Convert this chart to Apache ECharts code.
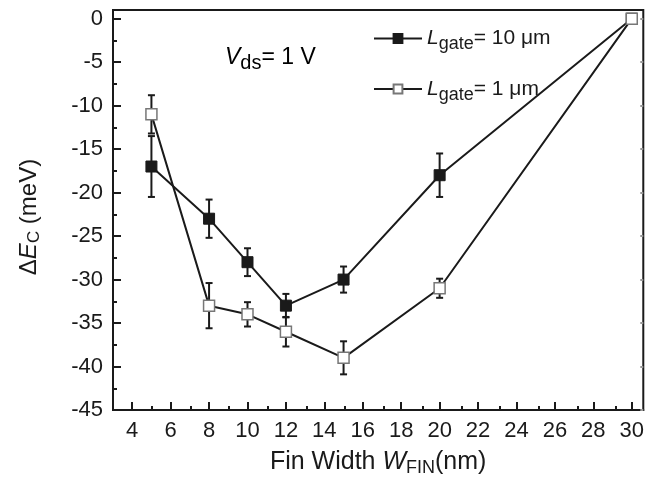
<!DOCTYPE html>
<html>
<head>
<meta charset="utf-8">
<script src="https://cdn.jsdelivr.net/npm/echarts@6/dist/echarts.min.js"></script>
<style>
  html, body { margin: 0; padding: 0; background: #fff; }
  #chart { width: 647px; height: 487px; }
</style>
</head>
<body>
<div id="chart"></div>
<script>
// fin width (nm)
var finWidth = [5, 8, 10, 12, 15, 20, 30]
// L_gate = 10 um, filled squares
var gate10 = [-17, -23, -28, -33, -30, -18, 0]
var gate10Err = [3.5, 2.2, 1.6, 1.35, 1.5, 2.5, 0]
// L_gate = 1 um, open squares
var gate1 = [-11, -33, -34, -36, -39, -31, 0]
var gate1Err = [2.2, 2.6, 1.4, 1.7, 1.9, 1.1, 0]
// ticks
var xTicks = [4, 6, 8, 10, 12, 14, 16, 18, 20, 22, 24, 26, 28, 30]
var xMinor = [5, 7, 9, 11, 13, 15, 17, 19, 21, 23, 25, 27, 29]
var yTicks = [-45, -40, -35, -30, -25, -20, -15, -10, -5, 0]
var yMinor = [-42.5, -37.5, -32.5, -27.5, -22.5, -17.5, -12.5, -7.5, -2.5]

var font = 'Liberation Sans, Arial, sans-serif'
var ink = '#1a1a1a'
var box = { left: 113, top: 10, right: -1, bottom: 77 }

function pairs (ys) {
  return finWidth.map(function (x, i) { return [x, ys[i]] })
}
function errRows (ys, es) {
  return finWidth.map(function (x, i) { return [x, ys[i] - es[i], ys[i] + es[i]] })
}
function errBars (params, api) {
  var lo = api.coord([api.value(0), api.value(1)])
  var hi = api.coord([api.value(0), api.value(2)])
  if (Math.abs(lo[1] - hi[1]) < 1) return
  var w = 3.5
  var st = { stroke: ink, lineWidth: 2 }
  return {
    type: 'group',
    children: [
      { type: 'line', shape: { x1: lo[0], y1: lo[1], x2: hi[0], y2: hi[1] }, style: st },
      { type: 'line', shape: { x1: lo[0] - w, y1: lo[1], x2: lo[0] + w, y2: lo[1] }, style: st },
      { type: 'line', shape: { x1: hi[0] - w, y1: hi[1], x2: hi[0] + w, y2: hi[1] }, style: st }
    ]
  }
}

function richSet (size, subSize, drop) {
  return {
    n: { fontFamily: font, fontSize: size, color: ink },
    it: { fontFamily: font, fontSize: size, fontStyle: 'italic', color: ink },
    sub: { fontFamily: font, fontSize: subSize, color: ink, padding: [drop, 0, 0, 0] }
  }
}

var chart = echarts.init(document.getElementById('chart'))
var option = {
  animation: false,
  grid: [
    Object.assign({ show: true, borderColor: ink, borderWidth: 2 }, box),
    // twin grid only carrying the minor ticks
    Object.assign({ show: false }, box)
  ],
  legend: {
    data: ['L10', 'L1'],
    orient: 'vertical',
    left: 368,
    top: 23,
    itemWidth: 48,
    itemHeight: 11,
    itemGap: 25,
    formatter: function (name) {
      return name === 'L10'
        ? '{it|L}{sub|gate}{n|= 10 μm}'
        : '{it|L}{sub|gate}{n|= 1 μm}'
    },
    textStyle: { rich: richSet(21, 18, 12) }
  },
  xAxis: [
    {
      type: 'value',
      gridIndex: 0,
      min: 3,
      max: 30.6,
      name: '{n|Fin Width }{it|W}{sub|FIN}{n|(nm)}',
      nameLocation: 'middle',
      nameGap: 38,
      nameTextStyle: { rich: richSet(25, 18, 11) },
      axisLine: { onZero: false, lineStyle: { color: ink, width: 2 } },
      axisTick: { inside: true, length: 8, customValues: xTicks, lineStyle: { color: ink, width: 2 } },
      axisLabel: { customValues: xTicks, fontFamily: font, fontSize: 22, color: ink, margin: 10 },
      splitLine: { show: false }
    },
    {
      type: 'value',
      gridIndex: 1,
      min: 3,
      max: 30.6,
      axisLine: { show: false, onZero: false },
      axisTick: { inside: true, length: 4, customValues: xMinor, lineStyle: { color: ink, width: 2 } },
      axisLabel: { show: false },
      splitLine: { show: false }
    }
  ],
  yAxis: [
    {
      type: 'value',
      gridIndex: 0,
      min: -45,
      max: 1,
      name: '{n|Δ}{it|E}{sub|C}{n| (meV)}',
      nameLocation: 'middle',
      nameGap: 70,
      nameTextStyle: { rich: richSet(24, 17, 10), padding: [0, 14, 0, 0] },
      axisLine: { onZero: false, lineStyle: { color: ink, width: 2 } },
      axisTick: { inside: true, length: 8, customValues: yTicks, lineStyle: { color: ink, width: 2 } },
      axisLabel: { customValues: yTicks, fontFamily: font, fontSize: 22, color: ink, margin: 10 },
      splitLine: { show: false }
    },
    {
      // faint ticks of the cut-off right spine
      type: 'value',
      gridIndex: 0,
      min: -45,
      max: 1,
      position: 'right',
      axisLine: { show: false, onZero: false },
      axisTick: { inside: true, length: 3, customValues: yTicks, lineStyle: { color: '#999', width: 2 } },
      axisLabel: { show: false },
      splitLine: { show: false }
    },
    {
      type: 'value',
      gridIndex: 1,
      min: -45,
      max: 1,
      position: 'left',
      axisLine: { show: false, onZero: false },
      axisTick: { inside: true, length: 4, customValues: yMinor, lineStyle: { color: ink, width: 2 } },
      axisLabel: { show: false },
      splitLine: { show: false }
    }
  ],
  graphic: [{
    type: 'text',
    left: 225,
    top: 46,
    style: {
      text: '{it|V}{sub|ds}{n|= 1 V}',
      rich: richSet(23, 20, 12)
    }
  }],
  series: [
    {
      type: 'custom',
      renderItem: errBars,
      data: errRows(gate10, gate10Err),
      z: 2
    },
    {
      type: 'custom',
      renderItem: errBars,
      data: errRows(gate1, gate1Err),
      z: 2
    },
    {
      name: 'L10',
      type: 'line',
      data: pairs(gate10),
      symbol: 'rect',
      symbolSize: 11,
      lineStyle: { color: ink, width: 2 },
      itemStyle: { color: ink, borderColor: ink, borderWidth: 1 },
      z: 3
    },
    {
      name: 'L1',
      type: 'line',
      data: pairs(gate1),
      symbol: 'rect',
      symbolSize: 11,
      lineStyle: { color: ink, width: 2 },
      itemStyle: { color: '#fff', borderColor: '#777', borderWidth: 1.5 },
      z: 4
    },
    {
      // empty series so the twin grid gets drawn
      type: 'line',
      xAxisIndex: 1,
      yAxisIndex: 2,
      data: [],
      silent: true
    }
  ]
}
chart.setOption(option)
</script>
</body>
</html>
